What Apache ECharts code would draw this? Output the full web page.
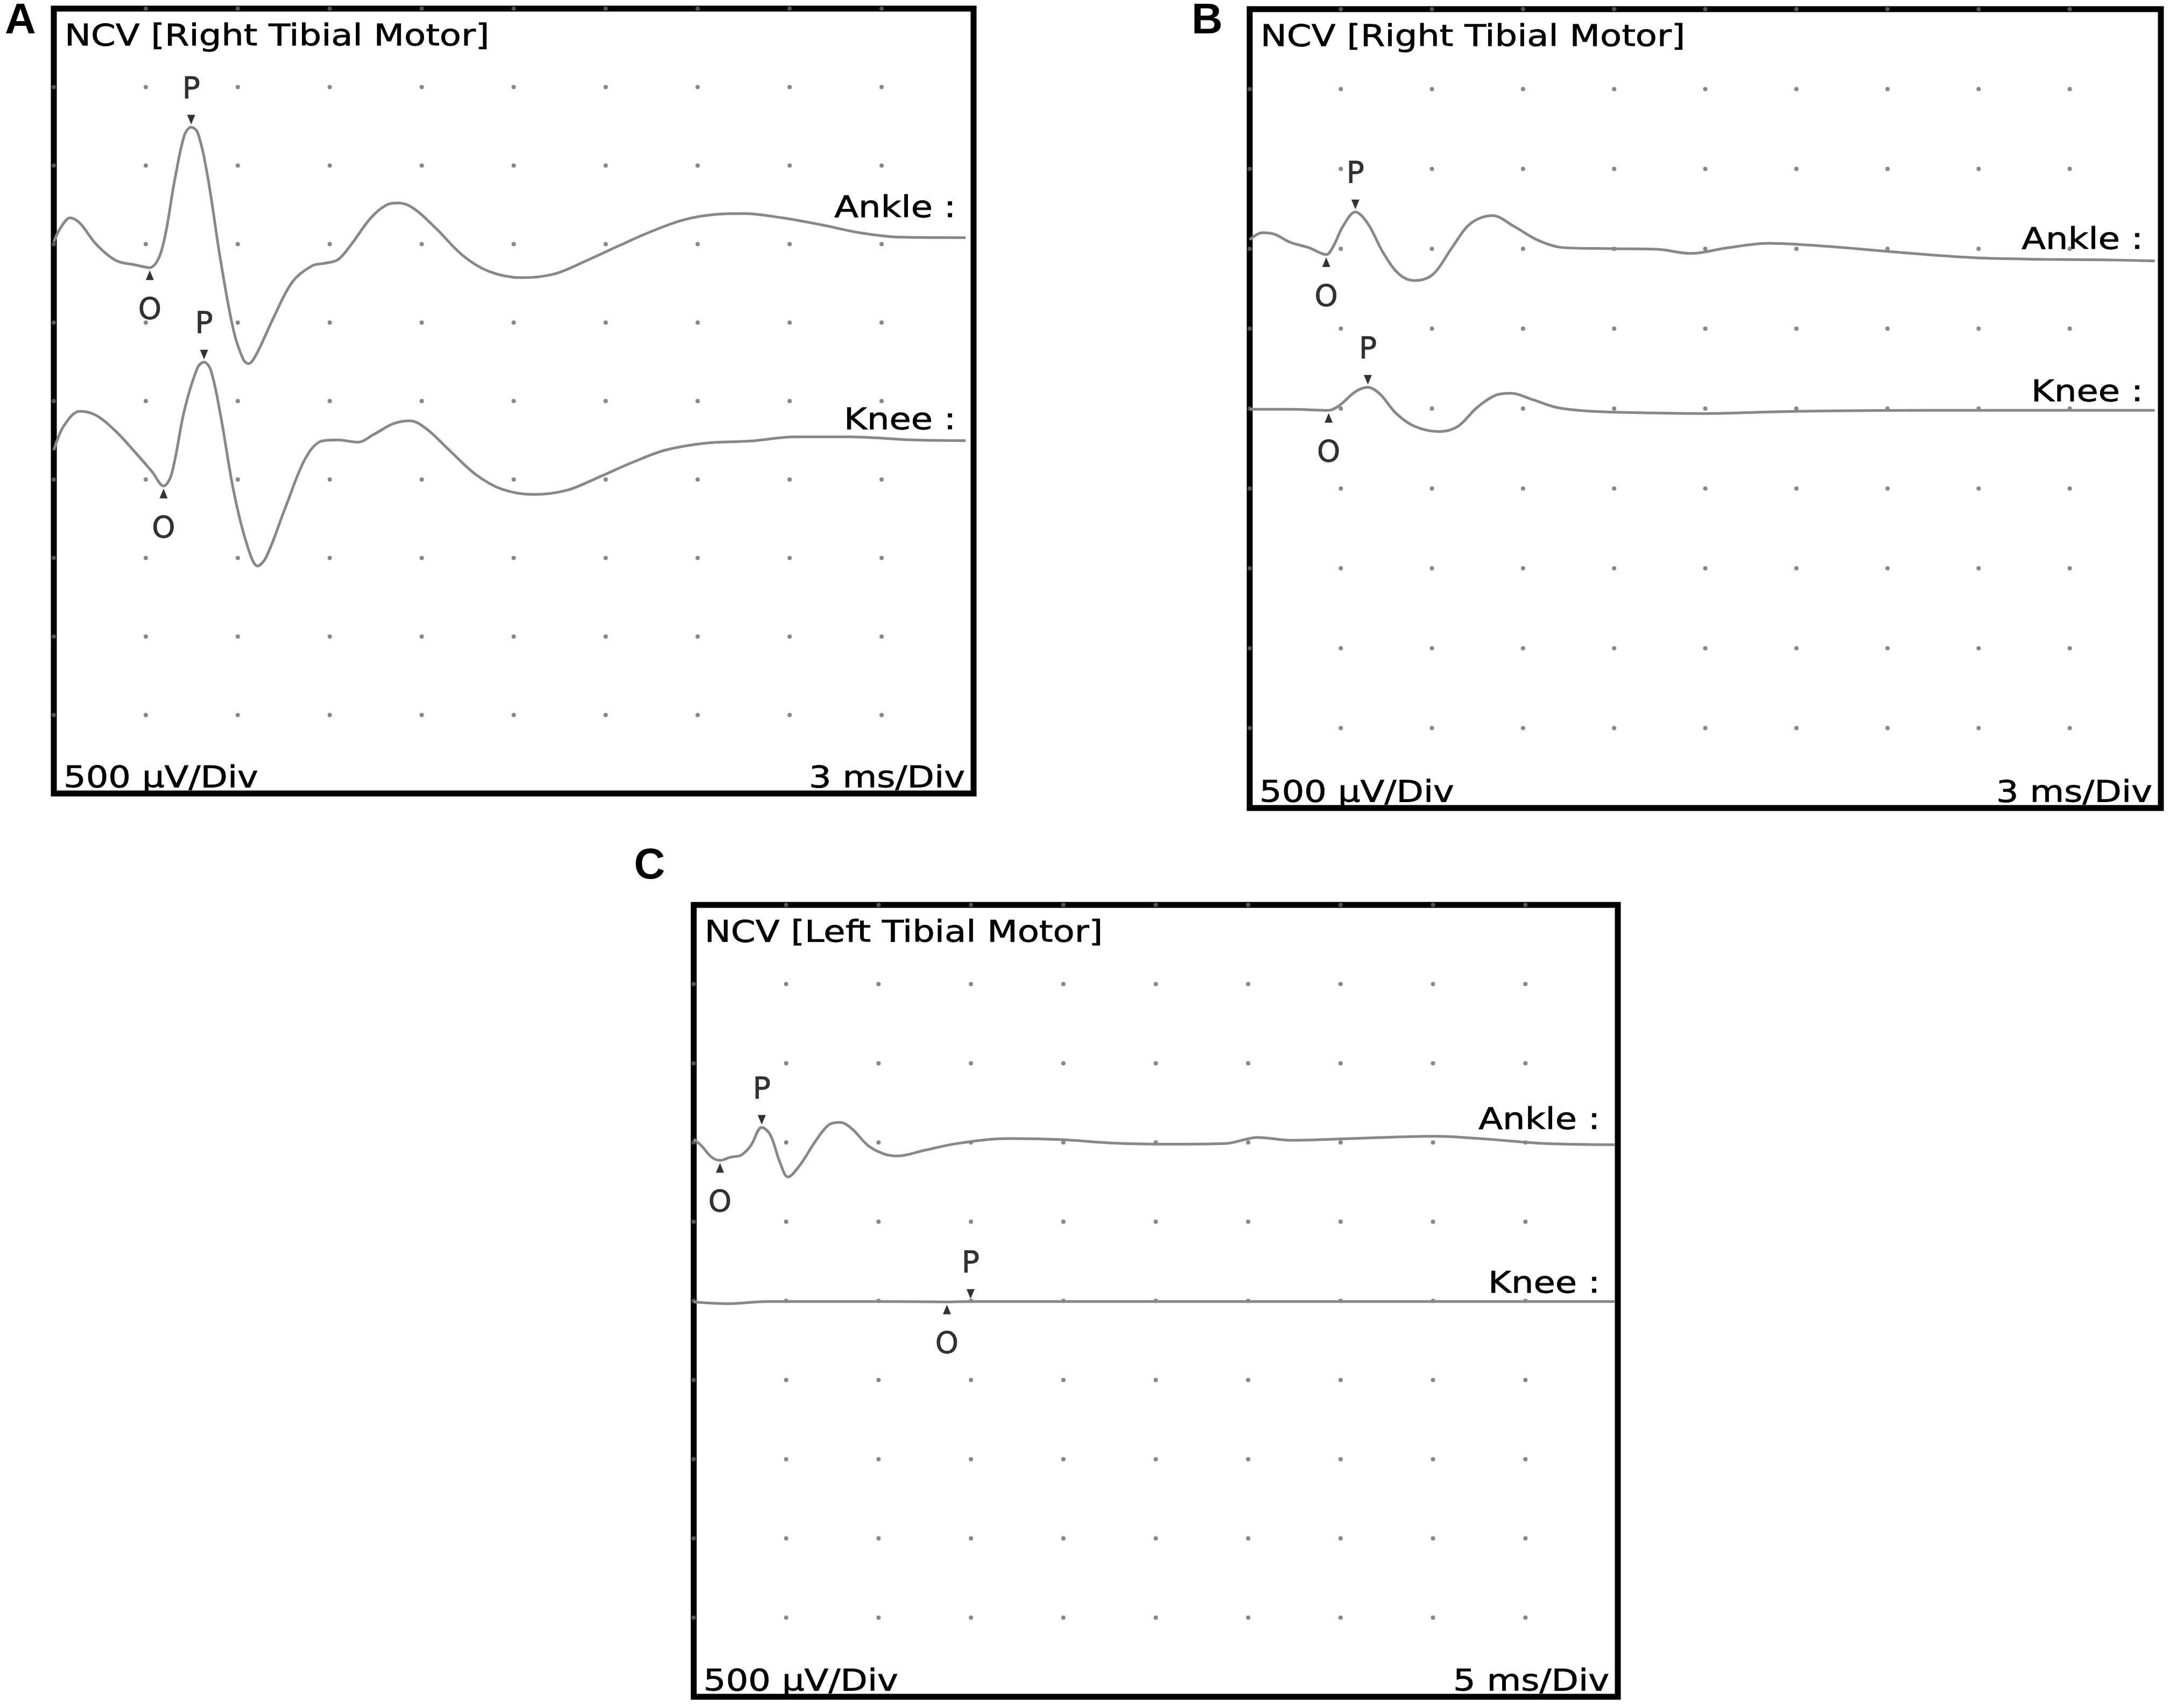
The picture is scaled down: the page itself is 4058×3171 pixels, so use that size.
<!DOCTYPE html>
<html>
<head>
<meta charset="utf-8">
<style>
 html, body { margin: 0; padding: 0; background: #fff; }
 #chart { width: 4058px; height: 3171px; }
</style>
</head>
<body>
<div id="chart"></div>
<script src="https://cdn.jsdelivr.net/npm/echarts@6/dist/echarts.min.js"></script>
<script>
// traces: [time ms, amplitude uV] (500 uV/div)
var aAnkle = [[0,3514],[0.21,3600],[0.53,3667],[0.85,3633],[1.39,3497],[2.03,3395],[2.67,3367],[3.13,3350],[3.52,3463],[3.94,3905],[4.26,4194],[4.48,4245],[4.69,4211],[5.01,3939],[5.44,3395],[5.86,2952],[6.18,2765],[6.35,2738],[6.61,2799],[7.14,3020],[7.78,3259],[8.42,3361],[8.85,3378],[9.27,3401],[9.70,3497],[10.34,3667],[10.88,3752],[11.24,3762],[11.73,3728],[12.47,3599],[13.33,3429],[14.18,3327],[15.25,3286],[16.31,3309],[17.38,3395],[18.44,3490],[19.51,3582],[20.58,3656],[21.64,3690],[22.49,3694],[23.77,3667],[25.05,3622],[26.33,3571],[27.61,3544],[29.74,3541]];
var aKnee = [[0,2187],[0.32,2340],[0.85,2435],[1.39,2408],[2.03,2306],[2.67,2170],[3.20,2051],[3.58,1959],[3.84,2034],[4.26,2442],[4.69,2714],[4.90,2748],[5.12,2697],[5.44,2408],[5.86,1932],[6.29,1592],[6.65,1449],[6.93,1507],[7.57,1830],[8.21,2136],[8.74,2245],[9.27,2252],[9.91,2238],[10.45,2289],[11.09,2357],[11.62,2374],[12.15,2323],[12.90,2187],[13.75,2034],[14.61,1939],[15.67,1905],[16.74,1932],[17.80,2017],[18.87,2109],[19.94,2187],[21.22,2231],[22.71,2245],[24.20,2272],[25.91,2272],[28.04,2252],[29.74,2248]];
var bAnkle = [[0,3557],[0.41,3601],[0.82,3591],[1.33,3541],[1.95,3507],[2.52,3464],[2.76,3518],[3.07,3641],[3.48,3731],[3.89,3658],[4.40,3474],[4.92,3341],[5.43,3301],[6.04,3341],[6.66,3507],[7.27,3658],[7.99,3708],[8.70,3641],[9.52,3551],[10.34,3507],[11.98,3501],[13.41,3497],[14.54,3471],[15.66,3504],[17.10,3534],[18.33,3524],[19.97,3501],[21.81,3471],[23.86,3444],[26.11,3434],[28.16,3431],[29.80,3424]];
var bKnee = [[0,2496],[1.33,2496],[2.60,2489],[2.97,2522],[3.48,2606],[3.89,2633],[4.30,2589],[4.81,2472],[5.43,2389],[6.25,2356],[6.86,2389],[7.48,2506],[8.09,2583],[8.60,2596],[9.32,2556],[10.14,2506],[11.37,2482],[13.41,2472],[15.05,2469],[17.10,2479],[19.15,2486],[22.22,2489],[25.29,2489],[28.36,2489],[29.80,2489]];
var cAnkle = [[0,3521],[0.42,3479],[0.96,3408],[1.42,3387],[2.02,3408],[2.55,3419],[3.08,3479],[3.68,3595],[4.14,3549],[4.67,3373],[5.10,3282],[5.74,3356],[6.62,3514],[7.33,3613],[7.93,3627],[8.57,3585],[9.45,3479],[10.34,3426],[11.05,3415],[12.46,3450],[14.24,3493],[17.07,3525],[19.90,3518],[22.73,3496],[25.92,3489],[28.75,3493],[30.52,3532],[32.29,3514],[34.77,3521],[37.25,3532],[40.08,3539],[42.92,3521],[46.10,3493],[49.82,3486]];
var cKnee = [[0,2493],[1.84,2482],[3.97,2496],[9.99,2496],[13.70,2493],[14.98,2496],[30,2496],[49.82,2496]];

// onset (O) and peak (P) markers
var aOnset = [[3.13,3350],[3.58,1959]];
var aPeak = [[4.48,4245],[4.90,2748]];
var bOnset = [[2.52,3464],[2.60,2489]];
var bPeak = [[3.48,3731],[3.89,2633]];
var cOnset = [[1.42,3387],[13.70,2493]];
var cPeak = [[3.68,3595],[14.98,2496]];

// divisions / tick values
var ticksA = [3,6,9,12,15,18,21,24,27];
var ticksB = [3,6,9,12,15,18,21,24,27];
var ticksC = [5,10,15,20,25,30,35,40,45];
var ticksY = [500,1000,1500,2000,2500,3000,3500,4000,4500];

var titles = ['NCV [Right Tibial Motor]', 'NCV [Right Tibial Motor]', 'NCV [Left Tibial Motor]'];
var letters = ['A', 'B', 'C'];
var ampScale = '500 µV/Div';
var timeScales = ['3 ms/Div', '3 ms/Div', '5 ms/Div'];
var channels = ['Ankle :', 'Knee :'];

// layout
var grids = [
  {left: 100, top: 16, width: 1709, height: 1458},
  {left: 2322, top: 17, width: 1693, height: 1484},
  {left: 1289, top: 1681, width: 1717, height: 1471}
];
var letterPos = [[38, 40], [2243, 40], [1207, 1610]];
var chanY = [[372, 766], [430, 713], [401, 705]];
var xMax = [30, 30, 50];
var xTicks = [ticksA, ticksB, ticksC];
var traces = [[aAnkle, aKnee], [bAnkle, bKnee], [cAnkle, cKnee]];
var onsets = [aOnset, bOnset, cOnset];
var peaks = [aPeak, bPeak, cPeak];

var txtFont = '56px "DejaVu Sans"';
var stretch = 1.17;

function txt(str, x, y, align) {
  return {
    type: 'text', x: x, y: y, scaleX: stretch, silent: true,
    style: {text: str, font: txtFont, fill: '#000', stroke: '#000', lineWidth: 0.8,
            align: align, textAlign: align,
            verticalAlign: 'middle', textVerticalAlign: 'middle'}
  };
}

var gridOpt = [], xAxes = [], yAxes = [], series = [], graphics = [];

grids.forEach(function (g, i) {
  gridOpt.push({left: g.left, top: g.top, width: g.width, height: g.height,
    show: true, borderColor: '#000', borderWidth: 11, backgroundColor: 'transparent'});
  xAxes.push({type: 'value', gridIndex: i, min: 0, max: xMax[i], show: false});
  yAxes.push({type: 'value', gridIndex: i, min: 0, max: 5000, show: false});

  // dotted graticule
  var dots = [];
  xTicks[i].forEach(function (x) {
    ticksY.forEach(function (y) { dots.push([x, y]); });
    dots.push([x, 5000]);
  });
  ticksY.forEach(function (y) { dots.push([0, y]); });
  series.push({type: 'scatter', xAxisIndex: i, yAxisIndex: i, data: dots, silent: true,
    symbolSize: 8, itemStyle: {color: '#6a6a6a'}, z: 1});

  traces[i].forEach(function (d) {
    series.push({type: 'line', xAxisIndex: i, yAxisIndex: i, data: d, smooth: 0.35,
      showSymbol: false, silent: true,
      lineStyle: {color: '#888888', width: 5}, z: 2});
  });

  series.push({type: 'scatter', xAxisIndex: i, yAxisIndex: i, data: peaks[i], silent: true,
    symbol: 'path://M0,0L10,0L5,10Z', symbolSize: [15, 18], symbolOffset: [0, -14],
    itemStyle: {color: '#000'}, z: 3,
    label: {show: true, position: 'top', distance: 18, formatter: 'P',
      fontSize: 55, fontFamily: 'DejaVu Sans', color: '#000',
      textBorderColor: '#000', textBorderWidth: 0.8}});
  series.push({type: 'scatter', xAxisIndex: i, yAxisIndex: i, data: onsets[i], silent: true,
    symbol: 'triangle', symbolSize: [15, 18], symbolOffset: [0, 14],
    itemStyle: {color: '#000'}, z: 3,
    label: {show: true, position: 'bottom', distance: 30, formatter: 'O',
      fontSize: 55, fontFamily: 'DejaVu Sans', color: '#000',
      textBorderColor: '#000', textBorderWidth: 0.8}});

  var r = g.left + g.width, b = g.top + g.height;
  graphics.push(txt(titles[i], g.left + 20, g.top + 53, 'left'));
  graphics.push(txt(ampScale, g.left + 18, b - 27, 'left'));
  graphics.push(txt(timeScales[i], r - 16, b - 27, 'right'));
  graphics.push(txt(channels[0], r - 33, g.top + chanY[i][0], 'right'));
  graphics.push(txt(channels[1], r - 33, g.top + chanY[i][1], 'right'));
  graphics.push({type: 'text', x: letterPos[i][0], y: letterPos[i][1], silent: true,
    style: {text: letters[i], font: 'bold 80px "Liberation Sans"', fill: '#000',
      align: 'center', textAlign: 'center', verticalAlign: 'middle', textVerticalAlign: 'middle'}});
});

var myChart = echarts.init(document.getElementById('chart'));
myChart.setOption({
  animation: false,
  backgroundColor: '#fff',
  grid: gridOpt,
  xAxis: xAxes,
  yAxis: yAxes,
  series: series,
  graphic: graphics
});
</script>
</body>
</html>
